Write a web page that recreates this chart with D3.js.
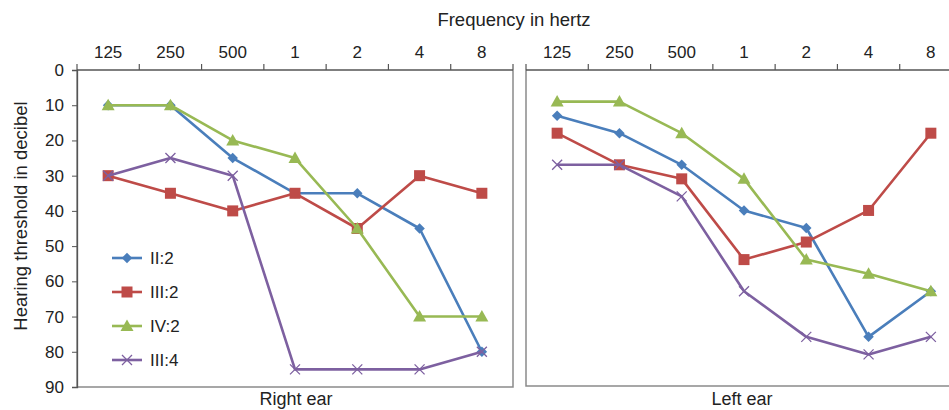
<!DOCTYPE html>
<html>
<head>
<meta charset="utf-8">
<script src="https://cdn.jsdelivr.net/npm/d3@7"></script>
<style>
  body { margin: 0; background: #fff; }
  svg { display: block; font-family: "Liberation Sans", Arial, sans-serif; }
</style>
</head>
<body>
<svg id="chart" width="949" height="410"></svg>
<script>
// frequencies (hertz, 1/2/4/8 are kHz)
var freqs = ["125", "250", "500", "1", "2", "4", "8"];
var yTicks = [0, 10, 20, 30, 40, 50, 60, 70, 80, 90];
var seriesNames = ["II:2", "III:2", "IV:2", "III:4"];

// right ear thresholds (dB)
var right_II2  = [10, 10, 25, 35, 35, 45, 80];
var right_III2 = [30, 35, 40, 35, 45, 30, 35];
var right_IV2  = [10, 10, 20, 25, 45, 70, 70];
var right_III4 = [30, 25, 30, 85, 85, 85, 80];

// left ear thresholds (dB)
var left_II2  = [13, 18, 27, 40, 45, 76, 63];
var left_III2 = [18, 27, 31, 54, 49, 40, 18];
var left_IV2  = [9, 9, 18, 31, 54, 58, 63];
var left_III4 = [27, 27, 36, 63, 76, 81, 76];

var colors = ["#4a7ebb", "#be4b48", "#98b954", "#7d60a0"];
var markers = ["diamond", "square", "triangle", "cross"];

var svg = d3.select('#chart');

var panels = [
    {name: "Right ear", x0: 77, x1: 513, bottom: 387, data: [right_II2, right_III2, right_IV2, right_III4], yaxis: true, labelX: 296, labelY: 405},
    {name: "Left ear",  x0: 526, x1: 962, bottom: 386, data: [left_II2, left_III2, left_IV2, left_III4], yaxis: false, labelX: 742, labelY: 405}
];
var topY = 70;

function drawMarker(g, type, x, y, color){
    if(type == "diamond"){
        g.append('path')
            .attr('d', d3.symbol().type(d3.symbolDiamond2).size(70)())
            .attr('transform', "translate(" + x + "," + y + ")")
            .attr('fill', color);
    } else if(type == "square"){
        g.append('rect')
            .attr('x', x - 5.5).attr('y', y - 5.5)
            .attr('width', 11).attr('height', 11)
            .attr('fill', color);
    } else if(type == "triangle"){
        g.append('path')
            .attr('d', "M" + x + "," + (y - 6.5) + "L" + (x + 6.5) + "," + (y + 5) + "L" + (x - 6.5) + "," + (y + 5) + "Z")
            .attr('fill', color);
    } else {
        g.append('path')
            .attr('d', "M" + (x - 5) + "," + (y - 5) + "L" + (x + 5) + "," + (y + 5) + "M" + (x - 5) + "," + (y + 5) + "L" + (x + 5) + "," + (y - 5))
            .attr('stroke', color)
            .attr('stroke-width', 1.3)
            .attr('fill', 'none');
    }
}

panels.forEach(function(p){
    var x = d3.scaleBand().domain(freqs).range([p.x0, p.x1]).padding(0);
    var y = d3.scaleLinear().domain([0, 90]).range([topY, p.bottom]);
    var g = svg.append('g');

    // frame: left/right/bottom borders
    g.append('path')
        .attr('d', "M" + p.x0 + "," + topY + "V" + p.bottom + "H" + p.x1 + "V" + topY)
        .attr('fill', 'none')
        .attr('stroke', '#8a8a8a')
        .attr('stroke-width', 1.5);

    // top axis
    var xAxis = d3.axisTop(x).tickSize(0).tickPadding(0);
    var ax = g.append('g').attr('transform', "translate(0," + topY + ")").call(xAxis);
    ax.select('.domain').remove();
    ax.selectAll('text')
        .attr('y', -12)
        .attr('font-size', 17)
        .attr('fill', '#222')
        .attr('font-family', '"Liberation Sans", Arial, sans-serif');
    g.append('line')
        .attr('x1', p.x0).attr('x2', p.x1)
        .attr('y1', topY).attr('y2', topY)
        .attr('stroke', '#555').attr('stroke-width', 1.3);
    var edges = freqs.map(function(f){ return x(f); }).concat([p.x1]);
    g.selectAll('line.xtick').data(edges).enter().append('line')
        .attr('class', 'xtick')
        .attr('x1', d => d).attr('x2', d => d)
        .attr('y1', topY - 6).attr('y2', topY)
        .attr('stroke', '#555').attr('stroke-width', 1.2);

    if(p.yaxis){
        var yAxis = d3.axisLeft(y).tickValues(yTicks).tickSize(5).tickPadding(8);
        var ay = g.append('g').attr('transform', "translate(" + p.x0 + ",0)").call(yAxis);
        ay.select('.domain').attr('stroke', '#555').attr('stroke-width', 1.3);
        ay.selectAll('.tick line').attr('stroke', '#555');
        ay.selectAll('text')
            .attr('font-size', 17)
            .attr('fill', '#222')
            .attr('font-family', '"Liberation Sans", Arial, sans-serif');
    }

    // series
    p.data.forEach(function(vals, si){
        var line = d3.line()
            .x(function(d, i){ return x(freqs[i]) + x.bandwidth() / 2; })
            .y(function(d){ return y(d); });
        g.append('path')
            .attr('d', line(vals))
            .attr('fill', 'none')
            .attr('stroke', colors[si])
            .attr('stroke-width', 2.6)
            .attr('stroke-linejoin', 'round');
        vals.forEach(function(v, i){
            drawMarker(g, markers[si], x(freqs[i]) + x.bandwidth() / 2, y(v), colors[si]);
        });
    });

    g.append('text')
        .attr('x', p.labelX).attr('y', p.labelY)
        .attr('text-anchor', 'middle')
        .attr('font-size', 18)
        .attr('fill', '#222')
        .text(p.name);
});

// legend
var legend = svg.append('g').attr('class', 'legend');
seriesNames.forEach(function(name, i){
    var ly = 258 + i * 34;
    legend.append('line')
        .attr('x1', 112).attr('x2', 142)
        .attr('y1', ly).attr('y2', ly)
        .attr('stroke', colors[i]).attr('stroke-width', 2.6);
    drawMarker(legend, markers[i], 127, ly, colors[i]);
    legend.append('text')
        .attr('x', 150).attr('y', ly + 6)
        .attr('font-size', 17)
        .attr('fill', '#222')
        .text(name);
});

// titles
svg.append('text')
    .attr('x', 514).attr('y', 26)
    .attr('text-anchor', 'middle')
    .attr('font-size', 18.5)
    .attr('fill', '#222')
    .text('Frequency in hertz');

svg.append('text')
    .attr('transform', "translate(27,216) rotate(-90)")
    .attr('text-anchor', 'middle')
    .attr('font-size', 18.5)
    .attr('fill', '#222')
    .text('Hearing threshold in decibel');
</script>
</body>
</html>
